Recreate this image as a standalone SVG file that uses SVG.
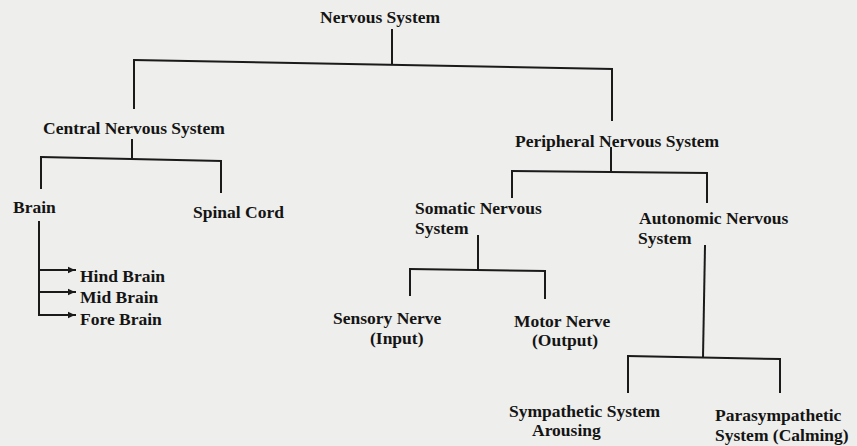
<svg xmlns="http://www.w3.org/2000/svg" width="857" height="446" viewBox="0 0 857 446">
  <style>
    .t { font-family: "Liberation Serif", "Times New Roman", serif; font-weight: bold; font-size: 17.5px; fill: #141414; }
    .c { stroke: #1a1a1a; stroke-width: 2; fill: none; stroke-linecap: square; }
  </style>
  <defs>
    <marker id="arr" markerWidth="8" markerHeight="8" refX="7" refY="4" orient="auto" markerUnits="userSpaceOnUse">
      <path d="M0,0.8 L7,4 L0,7.2 Z" fill="#1a1a1a"/>
    </marker>
  </defs>
  <rect width="857" height="446" fill="#eeeeec"/>

  <g id="connectors">
    <line class="c" x1="392" y1="30" x2="392" y2="64"/>
    <line class="c" x1="134" y1="60" x2="612" y2="69"/>
    <line class="c" x1="134" y1="60" x2="134" y2="108"/>
    <line class="c" x1="612" y1="69" x2="612" y2="120"/>
    <line class="c" x1="132" y1="140" x2="132" y2="159"/>
    <line class="c" x1="41" y1="157" x2="221" y2="161"/>
    <line class="c" x1="41" y1="157" x2="41" y2="188"/>
    <line class="c" x1="221" y1="161" x2="221" y2="192"/>
    <line class="c" x1="39" y1="222" x2="39" y2="315"/>
    <line class="c" x1="39" y1="270" x2="75" y2="270" marker-end="url(#arr)"/>
    <line class="c" x1="39" y1="292" x2="75" y2="292" marker-end="url(#arr)"/>
    <line class="c" x1="39" y1="315" x2="75" y2="315" marker-end="url(#arr)"/>
    <line class="c" x1="611" y1="148" x2="611" y2="172"/>
    <line class="c" x1="512" y1="171" x2="707" y2="173"/>
    <line class="c" x1="512" y1="171" x2="512" y2="197"/>
    <line class="c" x1="707" y1="173" x2="707" y2="202"/>
    <line class="c" x1="478" y1="236" x2="478" y2="270"/>
    <line class="c" x1="410" y1="269" x2="545" y2="271"/>
    <line class="c" x1="410" y1="269" x2="410" y2="295"/>
    <line class="c" x1="545" y1="271" x2="545" y2="298"/>
    <line class="c" x1="705" y1="246" x2="703" y2="357"/>
    <line class="c" x1="628" y1="356" x2="780" y2="359"/>
    <line class="c" x1="628" y1="356" x2="628" y2="392"/>
    <line class="c" x1="780" y1="359" x2="780" y2="392"/>
  </g>

  <g id="nervous-system"><text class="t" x="320" y="23">Nervous System</text></g>
  <g id="cns"><text class="t" x="43" y="134">Central Nervous System</text></g>
  <g id="pns"><text class="t" x="515" y="147">Peripheral Nervous System</text></g>
  <g id="brain"><text class="t" x="13" y="213">Brain</text></g>
  <g id="spinal-cord"><text class="t" x="193" y="218">Spinal Cord</text></g>
  <g id="hind-brain"><text class="t" x="80" y="282">Hind Brain</text></g>
  <g id="mid-brain"><text class="t" x="80" y="303">Mid Brain</text></g>
  <g id="fore-brain"><text class="t" x="80" y="325">Fore Brain</text></g>
  <g id="somatic"><text class="t"><tspan x="415" y="214.2">Somatic Nervous</tspan><tspan x="415" y="233.8">System</tspan></text></g>
  <g id="autonomic"><text class="t"><tspan x="639" y="224.2">Autonomic Nervous</tspan><tspan x="638" y="243.8">System</tspan></text></g>
  <g id="sensory"><text class="t"><tspan x="333" y="324.2">Sensory Nerve</tspan><tspan x="370" y="343.8">(Input)</tspan></text></g>
  <g id="motor"><text class="t"><tspan x="514" y="326.7">Motor Nerve</tspan><tspan x="532" y="346.3">(Output)</tspan></text></g>
  <g id="sympathetic"><text class="t"><tspan x="509" y="416.7">Sympathetic System</tspan><tspan x="532" y="436.3">Arousing</tspan></text></g>
  <g id="parasympathetic"><text class="t"><tspan x="715" y="421.2">Parasympathetic</tspan><tspan x="715" y="440.8">System (Calming)</tspan></text></g>
</svg>
